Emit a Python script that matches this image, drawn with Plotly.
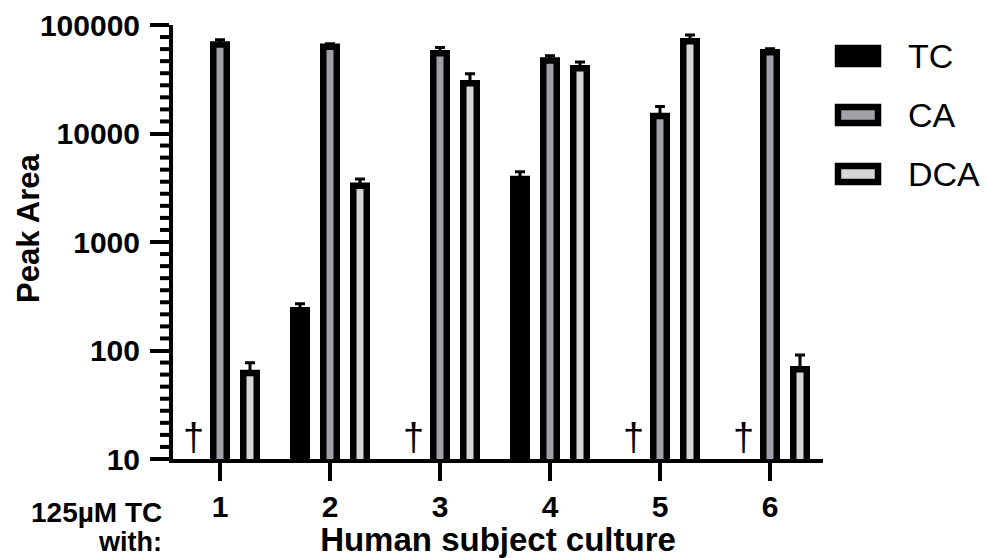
import plotly.graph_objects as go
import numpy as np

# ---- data ----
subjects = ["1", "2", "3", "4", "5", "6"]
tc_values = [None, 235, None, 3800, None, None]
tc_errors = [0, 35, 0, 650, 0, 0]
ca_values = [66000, 63000, 55000, 47000, 14500, 56000]
ca_errors = [7000, 4000, 7000, 5000, 3200, 4500]
dca_values = [62, 3300, 29000, 40000, 71000, 67]
dca_errors = [15, 500, 6500, 5500, 10000, 24]
tc_not_detected = [True, False, True, False, True, True]
y_tick_values = [10, 100, 1000, 10000, 100000]
y_tick_labels = ["10", "100", "1000", "10000", "100000"]

W, H = 988, 558
L, R, T, B = 173, 165, 25, 99
PW, PH = W - L - R, H - T - B
Y_LOG_RANGE = [1, 5]

def px(x):
    return (x - L) / PW

def py(y):
    return (H - B - y) / PH

FONT = "Arial, Liberation Sans, Helvetica, sans-serif"
BARGAP = 0.1818
BARGROUPGAP = 0.55
LW = 6.5

xs = [i + 1 for i in range(len(subjects))]

fig = go.Figure()
fig.add_trace(go.Bar(
    name="TC", x=xs, y=tc_values,
    marker=dict(color="black", line=dict(color="black", width=LW)),
    error_y=dict(type="data", array=tc_errors, arrayminus=[0]*6, symmetric=False,
                 color="black", thickness=3, width=5),
))
fig.add_trace(go.Bar(
    name="CA", x=xs, y=ca_values,
    marker=dict(color="#a0a0a6", line=dict(color="black", width=LW)),
    error_y=dict(type="data", array=ca_errors, arrayminus=[0]*6, symmetric=False,
                 color="black", thickness=3, width=5),
))
fig.add_trace(go.Bar(
    name="DCA", x=xs, y=dca_values,
    marker=dict(color="#d6d6d6", line=dict(color="black", width=LW)),
    error_y=dict(type="data", array=dca_errors, arrayminus=[0]*6, symmetric=False,
                 color="black", thickness=3, width=5),
))

shapes = []
# minor ticks on the y axis, evenly spaced in log space (as in the reference)
for d in range(Y_LOG_RANGE[0], Y_LOG_RANGE[1]):
    for k in range(1, 9):
        lv = d + k / 9
        yp = (lv - Y_LOG_RANGE[0]) / (Y_LOG_RANGE[1] - Y_LOG_RANGE[0])
        shapes.append(dict(type="rect", xref="paper", yref="paper",
                           x0=px(160), x1=px(171), y0=yp - 2 / PH, y1=yp + 2 / PH,
                           fillcolor="black", line=dict(width=0), layer="above"))

annotations = []
# daggers for not-detected TC
tc_offset = -(1 - BARGAP) / 3
for x, nd in zip(xs, tc_not_detected):
    if nd:
        annotations.append(dict(
            x=x + tc_offset + 0.03, y=0, xref="x", yref="paper", yanchor="bottom",
            text="†", showarrow=False, yshift=-1,
            font=dict(family=FONT, size=38, color="black")))

# y title
annotations.append(dict(
    x=px(28), y=py(228), xref="paper", yref="paper", text="<b>Peak Area</b>",
    textangle=-90, showarrow=False, xanchor="center", yanchor="middle",
    font=dict(family=FONT, size=31, color="black")))
# lower-left label
annotations.append(dict(
    x=px(164), y=py(512), xref="paper", yref="paper", text="<b>125µM TC</b>",
    showarrow=False, xanchor="right", yanchor="middle",
    font=dict(family=FONT, size=28, color="black")))
annotations.append(dict(
    x=px(164), y=py(542), xref="paper", yref="paper", text="<b>with:</b>",
    showarrow=False, xanchor="right", yanchor="middle",
    font=dict(family=FONT, size=27, color="black")))

# custom legend
legend_items = [("TC", "black", 56), ("CA", "#a0a0a6", 115), ("DCA", "#d6d6d6", 174)]
for name, col, yc in legend_items:
    shapes.append(dict(
        type="rect", xref="paper", yref="paper",
        x0=px(838), x1=px(878), y0=py(yc - 8), y1=py(yc + 8),
        fillcolor=col, line=dict(color="black", width=LW)))
    annotations.append(dict(
        x=px(906), y=py(yc), xref="paper", yref="paper", text=name,
        showarrow=False, xanchor="left", yanchor="middle",
        font=dict(family=FONT, size=34, color="black")))

fig.update_layout(
    width=W, height=H,
    margin=dict(l=L, r=R, t=T, b=B, autoexpand=False),
    paper_bgcolor="white", plot_bgcolor="white",
    barmode="group", bargap=BARGAP, bargroupgap=BARGROUPGAP,
    showlegend=False,
    font=dict(family=FONT, color="black"),
    annotations=annotations, shapes=shapes,
    xaxis=dict(
        range=[1 - 47 / 110, 1 - 47 / 110 + PW / 110],
        tickvals=xs, ticktext=[f"<b>{s}</b>" for s in subjects],
        tickfont=dict(family=FONT, size=30, color="black"),
        showline=True, linecolor="black", linewidth=4,
        ticks="outside", ticklen=18, tickwidth=4, tickcolor="black",
        showgrid=False, zeroline=False,
        title=dict(text="<b>Human subject culture</b>", standoff=2,
                   font=dict(family=FONT, size=33, color="black")),
    ),
    yaxis=dict(
        type="log", range=Y_LOG_RANGE,
        tickvals=y_tick_values, ticktext=[f"<b>{t}</b>" for t in y_tick_labels],
        tickfont=dict(family=FONT, size=30, color="black"),
        ticklabelstandoff=4,
        showline=True, linecolor="black", linewidth=4,
        ticks="outside", ticklen=19, tickwidth=4, tickcolor="black",
        showgrid=False, zeroline=False,
    ),
)

fig.write_html("out.html", config={"displayModeBar": False},
               post_script="document.body.style.margin='0';")
